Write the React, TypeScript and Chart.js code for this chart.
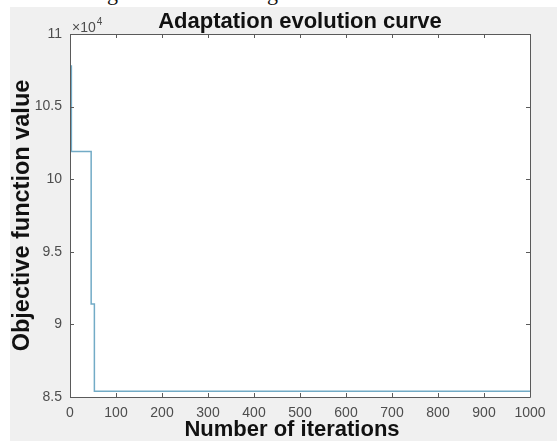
import React, { useEffect, useRef } from "react";
import { Chart, registerables } from "chart.js";

Chart.register(...registerables);

// ---- data ----
const chartTitle = "Adaptation evolution curve";
const xAxisTitle = "Number of iterations";
const yAxisTitle = "Objective function value";
const exponentLabel = "×10";
const exponentPower = "4";
const stepIterations = [0, 3, 46, 53, 1000];
const bestValues = [107800, 101900, 91400, 85400, 85400];
const xTickValues = [0, 100, 200, 300, 400, 500, 600, 700, 800, 900, 1000];
const yTickValues = [85000, 90000, 95000, 100000, 105000, 110000];
const captionFragment = "rget as shown in Figure 3.";

const FONT = "'Liberation Sans', Arial, Helvetica, sans-serif";
const TICK_COLOR = "#4d4d4d";
const AXIS_COLOR = "#5a5a5a";
const TITLE_COLOR = "#111111";

const frameAndTicks = {
  id: "frameAndTicks",
  beforeDatasetsDraw(chart: any) {
    const { ctx, chartArea: a } = chart;
    ctx.save();
    ctx.fillStyle = "#ffffff";
    ctx.fillRect(a.left, a.top, a.right - a.left, a.bottom - a.top);
    ctx.restore();
  },
  afterDraw(chart: any) {
    const { ctx, chartArea: a, scales } = chart;
    const len = 4;
    ctx.save();
    ctx.strokeStyle = AXIS_COLOR;
    ctx.lineWidth = 1;
    ctx.beginPath();
    ctx.rect(Math.round(a.left) + 0.5, Math.round(a.top) + 0.5, Math.round(a.right - a.left), Math.round(a.bottom - a.top));
    ctx.stroke();
    ctx.beginPath();
    for (const v of xTickValues) {
      const x = Math.round(scales.x.getPixelForValue(v)) + 0.5;
      ctx.moveTo(x, a.bottom);
      ctx.lineTo(x, a.bottom - len);
      ctx.moveTo(x, a.top);
      ctx.lineTo(x, a.top + len);
    }
    for (const v of yTickValues) {
      const y = Math.round(scales.y.getPixelForValue(v)) + 0.5;
      ctx.moveTo(a.left, y);
      ctx.lineTo(a.left + len, y);
      ctx.moveTo(a.right, y);
      ctx.lineTo(a.right - len, y);
    }
    ctx.stroke();
    // exponent label
    ctx.fillStyle = TICK_COLOR;
    ctx.textBaseline = "alphabetic";
    ctx.textAlign = "left";
    ctx.font = `14px ${FONT}`;
    const ex = a.left + 2;
    const ey = a.top - 2;
    ctx.fillText(exponentLabel, ex, ey);
    const w = ctx.measureText(exponentLabel).width;
    ctx.font = `10px ${FONT}`;
    ctx.fillText(exponentPower, ex + w + 1, ey - 7);
    // chart title over the plot box
    ctx.fillStyle = TITLE_COLOR;
    ctx.textAlign = "center";
    ctx.textBaseline = "middle";
    ctx.font = `bold 22px ${FONT}`;
    ctx.fillText(chartTitle, (a.left + a.right) / 2, a.top - 12);
    // x-axis title below the tick labels
    ctx.font = `bold 22px ${FONT}`;
    ctx.fillText(xAxisTitle, (a.left + a.right) / 2 - 8, a.bottom + 33);
    ctx.restore();
  },
};

function ChartView() {
  const ref = useRef<HTMLCanvasElement | null>(null);
  useEffect(() => {
    if (!ref.current) return;
    const chart = new Chart(ref.current, {
      type: "line",
      data: {
        datasets: [
          {
            data: stepIterations.map((x, i) => ({ x, y: bestValues[i] })),
            borderColor: "#72abc6",
            borderWidth: 1.5,
            pointRadius: 0,
            stepped: true,
            fill: false,
          },
        ],
      },
      options: {
        animation: false,
        responsive: false,
        devicePixelRatio: 1,
        layout: { padding: { left: 0, right: 27, top: 27, bottom: 0 } },
        plugins: {
          legend: { display: false },
          tooltip: { enabled: false },
          title: { display: false },
        },
        scales: {
          x: {
            type: "linear",
            min: 0,
            max: 1000,
            grid: { display: false, drawTicks: false },
            border: { display: false },
            afterBuildTicks(scale: any) {
              scale.ticks = xTickValues.map((v) => ({ value: v }));
            },
            ticks: {
              color: TICK_COLOR,
              font: { family: FONT, size: 14 },
              padding: 8,
              maxRotation: 0,
              autoSkip: false,
              callback: (v: any) => String(v),
            },
            title: { display: false },
            afterFit(scale: any) {
              scale.height = 44;
            },
          },
          y: {
            type: "linear",
            min: 85000,
            max: 110000,
            grid: { display: false, drawTicks: false },
            border: { display: false },
            afterBuildTicks(scale: any) {
              scale.ticks = yTickValues.map((v) => ({ value: v }));
            },
            ticks: {
              color: TICK_COLOR,
              font: { family: FONT, size: 14 },
              padding: 8,
              callback: (v: any) => String(Number(v) / 10000),
            },
            title: {
              display: true,
              text: yAxisTitle,
              color: TITLE_COLOR,
              font: { family: FONT, size: 23.5, weight: "bold", lineHeight: 1 },
              padding: { top: 1, bottom: 0 },
            },
            afterFit(scale: any) {
              scale.width = 60;
            },
          },
        },
      },
      plugins: [frameAndTicks],
    });
    return () => chart.destroy();
  }, []);
  return <canvas ref={ref} width={547} height={434} style={{ display: "block" }} />;
}

export default function App() {
  return (
    <div style={{ position: "absolute", left: 0, top: 0, width: 557, height: 446, background: "#ffffff", overflow: "hidden" }}>
      <div style={{ position: "absolute", left: 0, top: 0, width: 557, height: 7, overflow: "hidden" }}>
        <span
          style={{
            position: "absolute",
            left: 100,
            top: -18,
            fontFamily: "'Liberation Serif', 'Times New Roman', serif",
            fontSize: 22,
            lineHeight: "22px",
            whiteSpace: "nowrap",
            color: "#111",
          }}
        >
          {captionFragment}
        </span>
      </div>
      <div style={{ position: "absolute", left: 10, top: 7, width: 547, height: 434, background: "#f0f0f0" }}>
        <ChartView />
      </div>
    </div>
  );
}
